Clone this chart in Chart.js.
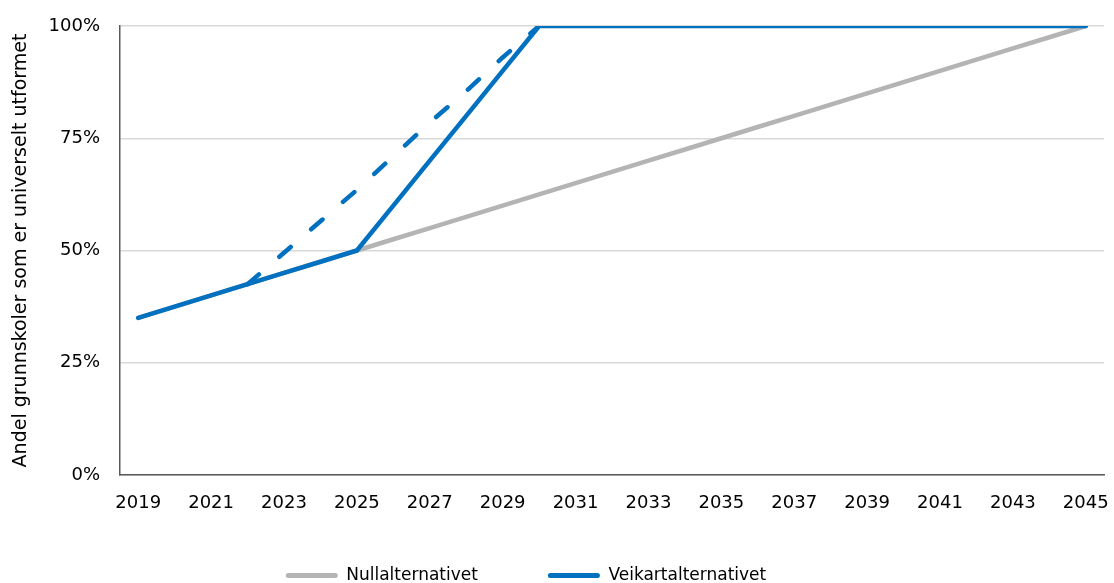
<!DOCTYPE html>
<html><head><meta charset="utf-8">
<script src="https://cdn.jsdelivr.net/npm/chart.js@4"></script>
<style>html,body{margin:0;padding:0;background:#fff}#wrap{width:1114px;height:583px}</style>
</head><body><div id="wrap"><canvas id="c"></canvas></div>
<script>
const years = [2019,2020,2021,2022,2023,2024,2025,2026,2027,2028,2029,2030,2031,2032,2033,2034,2035,2036,2037,2038,2039,2040,2041,2042,2043,2044,2045];
const nullValues = [35,37.5,40,42.5,45,47.5,50,52.5,55,57.5,60,62.5,65,67.5,70,72.5,75,77.5,80,82.5,85,87.5,90,92.5,95,97.5,100];
const veikartValues = [35,37.5,40,42.5,45,47.5,50,60,70,80,90,100,100,100,100,100,100,100,100,100,100,100,100,100,100,100,100];
const veikartDashed = [null,null,null,42.5,49.5,56.5,63.5,71,78.5,85.5,93,100,null,null,null,null,null,null,null,null,null,null,null,null,null,null,null];
const yTicks = [0,25,50,75,100];

const FONT = "'DejaVu Sans', sans-serif";
const legendTweak = {
  id:'legendTweak',
  beforeUpdate(chart){
    const lg = chart.legend;
    if(lg && !lg._patched){
      const f = lg.fit;
      lg.fit = function(){ f.call(this); this.height = 53; };
      lg._patched = true;
    }
  },
  afterLayout(chart){
    const lg = chart.legend;
    if(!lg) return;
    lg.top -= 33;
    lg.left -= 26; lg.right -= 26;
  }
};
new Chart(document.getElementById('c'), {
  type: 'line',
  data: {
    labels: years.map(String),
    datasets: [
      {label:'Nullalternativet', data:nullValues, borderColor:'#b4b4b4', backgroundColor:'#b4b4b4', borderWidth:4.5, pointRadius:0, order:3, borderCapStyle:'round'},
      {label:'Veikartalternativet', data:veikartValues, borderColor:'#0070c0', backgroundColor:'#0070c0', borderWidth:4.5, pointRadius:0, order:1, borderCapStyle:'round'},
      {label:'dashed', data:veikartDashed, borderColor:'#0070c0', backgroundColor:'#0070c0', borderWidth:4.5, pointRadius:0, order:2, borderDash:[15,27], borderCapStyle:'round', spanGaps:false}
    ]
  },
  plugins:[legendTweak],
  options: {
    responsive:true, maintainAspectRatio:false, animation:false,
    layout:{padding:{top:26,right:10,left:0,bottom:0}},
    plugins:{
      tooltip:{enabled:false},
      legend:{position:'bottom', labels:{
        filter:(item)=>item.text!=='dashed',
        sort:(a,b)=>a.datasetIndex-b.datasetIndex,
        generateLabels:(chart)=>Chart.defaults.plugins.legend.labels.generateLabels(chart).map(it=>Object.assign(it,{lineWidth:0, borderRadius:2.5})),
        useBorderRadius:true, borderRadius:2.5,
        boxWidth:52, boxHeight:5, font:{family:FONT,size:17}, color:'#000', padding:70
      }}
    },
    scales:{
      x:{offset:true, grid:{display:false, drawTicks:false}, border:{color:'#595959', width:1.5},
        afterFit:(s)=>{s.height=55; s.paddingRight=0; s.paddingLeft=0;},
        ticks:{autoSkip:false, maxRotation:0, color:'#000', font:{family:FONT,size:18}, padding:18,
          callback:function(v,i){return i%2===0?this.getLabelForValue(v):'';}}},
      y:{min:0,max:100, afterBuildTicks:(ax)=>{ax.ticks=yTicks.map(v=>({value:v}));},
        afterFit:(s)=>{s.width=120; s.paddingTop=0; s.paddingBottom=0;},
        grid:{color:'#d9d9d9', lineWidth:1.5, drawTicks:false}, border:{color:'#595959', width:1.5, display:true},
        ticks:{color:'#000', font:{family:FONT,size:18}, padding:20, callback:(v)=>v+'%'},
        title:{display:true, text:'Andel grunnskoler som er universelt utformet', color:'#000', font:{family:FONT,size:19}, padding:{top:10,bottom:4}}}
    }
  }
});
</script></body></html>
